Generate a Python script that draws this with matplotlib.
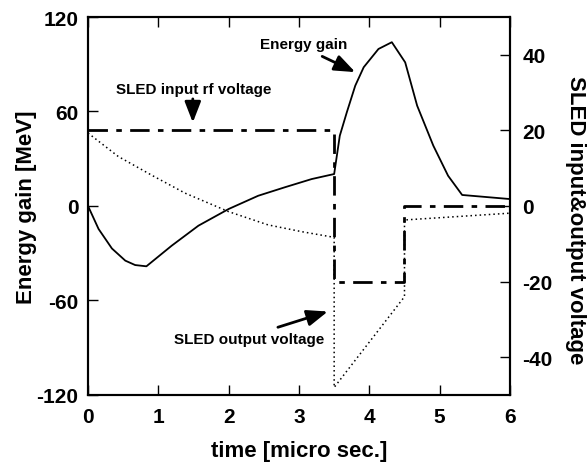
import numpy as np
import matplotlib
matplotlib.use('Agg')
import matplotlib.pyplot as plt

plt.rcParams['font.family'] = ['Liberation Sans', 'DejaVu Sans']
plt.rcParams['font.weight'] = 'bold'
plt.rcParams['axes.unicode_minus'] = False

# energy gain [MeV] (left axis)
t_gain = [0.0, 0.15, 0.34, 0.53, 0.67, 0.83, 1.19, 1.57, 2.0, 2.42, 2.8, 3.18, 3.5,
          3.58, 3.68, 3.8, 3.92, 4.13, 4.32, 4.51, 4.68, 4.91, 5.12, 5.32, 6.0]
gain = [0.0, -14.6, -27.0, -34.7, -37.5, -38.3, -25.2, -12.5, -1.9, 6.5, 11.9, 17.1, 20.3,
        44.6, 59.5, 76.4, 88.1, 99.7, 104.0, 91.2, 63.7, 38.3, 19.2, 7.0, 4.4]

# SLED input rf voltage (right axis)
t_in = [0.0, 3.5, 3.5, 4.5, 4.5, 6.0]
v_in = [20, 20, -20, -20, 0, 0]

# SLED output voltage (right axis)
t_out = [0.0, 0.43, 0.9, 1.38, 2.0, 2.56, 3.04, 3.5, 3.5, 4.5, 4.5, 6.0]
v_out = [19.3, 13.1, 8.2, 3.4, -1.5, -5.0, -6.8, -8.3, -48.0, -24.0, -3.7, -1.9]

fig = plt.figure(figsize=(5.88, 4.64), dpi=100)
ax = fig.add_axes([0.1497, 0.1466, 0.7176, 0.8146])
ax2 = ax.twinx()

ax.plot(t_gain, gain, 'k-', lw=1.3)
ax2.plot(t_in, v_in, color='k', lw=2, linestyle=(0, (7, 3, 2, 3)))
ax2.plot(t_out, v_out, color='k', lw=1.1, linestyle=(0, (1, 2)))

ax.set_xlim(0, 6)
ax.set_ylim(-120, 120)
ax2.set_ylim(-50, 50)
ax.set_xticks([0, 1, 2, 3, 4, 5, 6])
ax.set_yticks([-120, -60, 0, 60, 120])
ax2.set_yticks([-40, -20, 0, 20, 40])

ax.tick_params(axis='both', direction='in', length=7, width=1, labelsize=15, top=True, right=False)
ax.tick_params(axis='x', pad=9)
ax.tick_params(axis='y', pad=7)
ax2.tick_params(axis='y', direction='in', length=7, width=1, labelsize=15, pad=9)
for a in (ax, ax2):
    for s in a.spines.values():
        s.set_linewidth(1.5)
    for lab in a.get_xticklabels() + a.get_yticklabels():
        lab.set_fontweight('bold')

ax.set_xlabel('time [micro sec.]', fontsize=16, fontweight='bold', labelpad=10)
ax.set_ylabel('Energy gain [MeV]', fontsize=16, fontweight='bold')
ax.yaxis.set_label_coords(-0.12, 0.5)
ax2.set_ylabel('SLED input&output voltage', fontsize=16, fontweight='bold', rotation=-90, va='center')
ax2.yaxis.set_label_coords(1.155, 0.465)

arrow = dict(arrowstyle='-|>,head_length=0.9,head_width=0.35', color='k', lw=2,
             mutation_scale=14, shrinkA=0, shrinkB=0)
ax.text(3.06, 103, 'Energy gain', fontsize=11, fontweight='bold', ha='center', va='center')
ax.annotate('', xy=(3.80, 85), xytext=(3.33, 95), arrowprops=arrow)
ax.text(1.5, 74, 'SLED input rf voltage', fontsize=11, fontweight='bold', ha='center', va='center')
ax.annotate('', xy=(1.49, 53), xytext=(1.49, 68), arrowprops=arrow)
ax.text(2.29, -84.5, 'SLED output voltage', fontsize=11, fontweight='bold', ha='center', va='center')
ax.annotate('', xy=(3.41, -67), xytext=(2.70, -77), arrowprops=arrow)

fig.savefig('out.png', dpi=100)
